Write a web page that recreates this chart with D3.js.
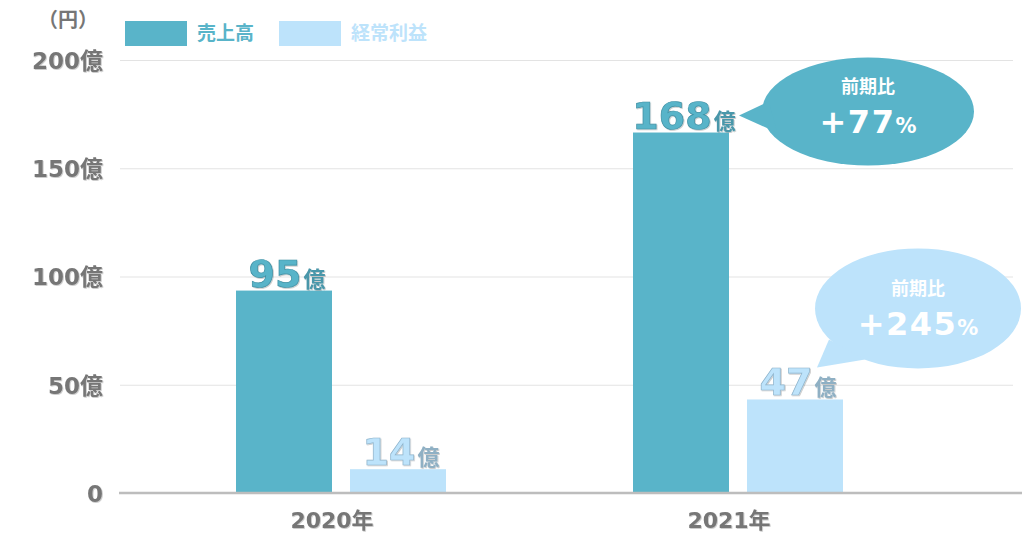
<!DOCTYPE html>
<html><head><meta charset="utf-8">
<script src="https://cdn.jsdelivr.net/npm/d3@7"></script>
<style>
html,body{margin:0;padding:0;background:#fff;}
svg{display:block;}
</style></head>
<body>
<svg id="chart" width="1024" height="547"></svg>
<script>
// ---- data ----
const categories = ["2020年", "2021年"];
const seriesNames = ["売上高", "経常利益"];
const salesValues = [93.5, 166.5];      // bar heights as drawn (億円)
const profitValues = [11, 43.2];
const salesLabels = ["95", "168"];
const profitLabels = ["14", "47"];
const yTicks = [0, 50, 100, 150, 200];
const unitLabel = "（円）";
const calloutTitle = "前期比";
const salesGrowth = ["+77", "%"];
const profitGrowth = ["+245", "%"];

const colors = { "売上高": "#59b4c9", "経常利益": "#bde3fb" };
const darker = { "売上高": "#3d8fa3", "経常利益": "#8fb4cc" };
const gray = "#767676";
const numFont = "'DejaVu Sans', 'Noto Sans CJK JP', sans-serif";
const jpFont = "'Noto Sans CJK JP', sans-serif";

const svg = d3.select("#chart");
const defs = svg.append("defs");
const sh = defs.append("filter").attr("id","sh").attr("x","-10%").attr("y","-10%").attr("width","130%").attr("height","140%");
sh.append("feDropShadow").attr("dx",0.8).attr("dy",0.8).attr("stdDeviation",0.6).attr("flood-color","#000").attr("flood-opacity",0.25);

const y = d3.scaleLinear().domain([0, 200]).range([493, 60]);
const x0 = d3.scaleBand().domain(categories).range([142.5, 936.5]);
const x1 = d3.scaleBand().domain(seriesNames).range([93.5, 303.5]).paddingInner(0.158);

// gridlines
svg.append("g")
  .attr("transform", "translate(120,0)")
  .call(d3.axisLeft(y).tickValues(yTicks.filter(d => d > 0)).tickSize(-893).tickFormat(""))
  .call(g => g.select(".domain").remove())
  .call(g => g.selectAll("line").attr("stroke", "#e3e3e3").attr("stroke-width", 1.2));

// y labels
const yAxis = svg.append("g")
  .attr("transform", "translate(103,0)")
  .call(d3.axisLeft(y).tickValues(yTicks).tickSize(0).tickPadding(0)
    .tickFormat(d => d === 0 ? "0" : d + "億"));
yAxis.select(".domain").remove();
yAxis.selectAll("text")
  .attr("fill", gray).attr("font-family", numFont).attr("font-weight", "bold")
  .attr("font-size", 23).attr("dy", "0.36em").attr("filter", "url(#sh)");

// unit label
svg.append("text").attr("x", 98).attr("y", 27).attr("text-anchor", "end")
  .attr("fill", gray).attr("font-family", jpFont).attr("font-weight", "bold")
  .attr("font-size", 20).text(unitLabel);

// legend
const legend = svg.append("g");
seriesNames.forEach((s, i) => {
  const lx = 125 + i * 154;
  legend.append("rect").attr("x", lx).attr("y", 21).attr("width", 62).attr("height", 25).attr("fill", colors[s]);
  legend.append("text").attr("x", lx + 72).attr("y", 40).attr("fill", colors[s])
    .attr("font-family", jpFont).attr("font-weight", "bold").attr("font-size", 19).text(s);
});

// bars
const rows = categories.map((c, i) => ({ cat: c, vals: [
  { s: "売上高", v: salesValues[i], lab: salesLabels[i] },
  { s: "経常利益", v: profitValues[i], lab: profitLabels[i] }
]}));

const groups = svg.append("g").selectAll("g").data(rows).join("g")
  .attr("transform", d => `translate(${x0(d.cat)},0)`);
groups.selectAll("rect").data(d => d.vals).join("rect")
  .attr("x", d => x1(d.s)).attr("width", x1.bandwidth())
  .attr("y", d => y(d.v)).attr("height", d => y(0) - y(d.v))
  .attr("fill", d => colors[d.s]);

// value labels
groups.selectAll("text.val").data(d => d.vals).join("text").attr("class", "val")
  .attr("x", d => x1(d.s) + x1.bandwidth() / 2 + 3)
  .attr("y", d => y(d.v) - 4)
  .attr("text-anchor", "middle")
  .attr("filter", "url(#sh)")
  .each(function(d) {
    const t = d3.select(this);
    t.append("tspan").text(d.lab)
      .attr("font-family", numFont).attr("font-size", 38).attr("font-weight", "bold")
      .attr("fill", colors[d.s]).attr("stroke", darker[d.s]).attr("stroke-width", 0.7);
    t.append("tspan").text("億").attr("dx", 2)
      .attr("font-family", jpFont).attr("font-size", 22).attr("font-weight", "bold")
      .attr("fill", d.s === "売上高" ? "#4a97aa" : "#8fb0c4");
  });

// baseline
svg.append("line").attr("x1", 119).attr("x2", 1022).attr("y1", y(0)).attr("y2", y(0))
  .attr("stroke", "#bdbdbd").attr("stroke-width", 2.5);

// x labels
svg.append("g").selectAll("text").data(categories).join("text")
  .attr("x", d => x0(d) + x0.bandwidth() / 2 - 9).attr("y", 528)
  .attr("text-anchor", "middle").attr("fill", gray)
  .attr("font-family", numFont).attr("font-weight", "bold").attr("font-size", 22)
  .attr("filter", "url(#sh)")
  .text(d => d);

// callouts
function callout(cx, cy, rx, ry, tip, base1, base2, color, growth, titleY, growthY, numSize) {
  const g = svg.append("g");
  g.append("ellipse").attr("cx", cx).attr("cy", cy).attr("rx", rx).attr("ry", ry).attr("fill", color);
  g.append("path").attr("d", `M${base1[0]},${base1[1]}L${tip[0]},${tip[1]}L${base2[0]},${base2[1]}Z`).attr("fill", color);
  g.append("text").attr("x", cx).attr("y", titleY).attr("text-anchor", "middle")
    .attr("fill", "#fff").attr("font-family", jpFont).attr("font-weight", "bold").attr("font-size", 18)
    .text(calloutTitle);
  const t = g.append("text").attr("x", cx).attr("y", growthY).attr("text-anchor", "middle").attr("fill", "#fff");
  t.append("tspan").text(growth[0]).attr("font-family", numFont).attr("font-weight", "bold")
    .attr("font-size", numSize).attr("letter-spacing", 1.5);
  t.append("tspan").text(growth[1]).attr("font-family", numFont).attr("font-weight", "bold").attr("font-size", 21);
}

// sales callout, anchored to the 2021 sales bar label
const sBarR = x0(categories[1]) + x1("売上高") + x1.bandwidth();
const sTop = y(salesValues[1]);
callout(sBarR + 139, sTop - 21, 106, 54,
  [sBarR + 10, sTop - 17], [sBarR + 40, sTop - 31], [sBarR + 48, sTop], colors["売上高"],
  salesGrowth, sTop - 40, sTop, 32);

// profit callout, anchored to the 2021 profit bar
const pBarL = x0(categories[1]) + x1("経常利益");
const pTop = y(profitValues[1]);
callout(pBarL + 171, pTop - 91, 103, 60,
  [pBarL + 70, pTop - 32], [pBarL + 82, pTop - 60], [pBarL + 118, pTop - 40], colors["経常利益"],
  profitGrowth, pTop - 104, pTop - 64, 32);
</script>
</body></html>
